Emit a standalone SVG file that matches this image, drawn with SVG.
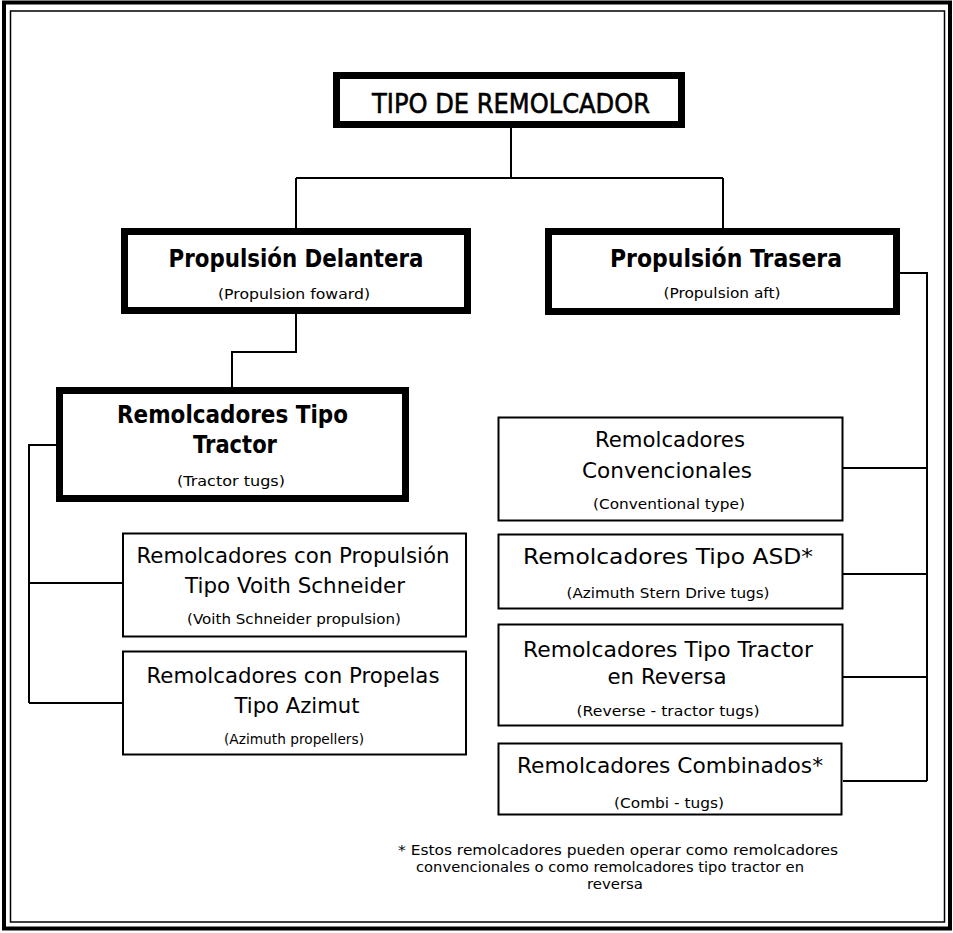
<svg xmlns="http://www.w3.org/2000/svg" width="953" height="933" viewBox="0 0 953 933">
<style>
.frame{fill:none;stroke:#000}
.thick{fill:#fff;stroke:#000;stroke-width:7}
.thin{fill:#fff;stroke:#000;stroke-width:2}
.conn{fill:none;stroke:#000;stroke-width:2}
text{font-family:"DejaVu Sans","Liberation Sans",sans-serif;fill:#000;text-anchor:middle}
.title{font-size:27px;stroke:#000;stroke-width:0.6}
.bold{font-size:24px;font-weight:bold}
.reg{font-size:22px}
.sub{font-size:14px}
.note{font-size:14px}
</style>
<rect width="953" height="933" fill="#fff"/>
<rect class="frame" x="4" y="2.5" width="946" height="926" stroke-width="4"/>
<rect class="frame" x="10.5" y="11" width="934" height="911" stroke-width="1.5"/>
<g id="connectors">
<path class="conn" d="M511 128 V178 M296 178 H723 M296 178 V228 M723 178 V228"/>
<path class="conn" d="M296 314 V352 H232 V387"/>
<path class="conn" d="M56 445 H29 V703 M29 583 H122 M29 703 H122"/>
<path class="conn" d="M900 273 H927 V781 M843 468 H927 M843 574 H927 M843 677 H927 M843 781 H927"/>
</g>
<g id="tipo">
<rect class="thick" x="336.5" y="75.5" width="345" height="49"/>
<text class="title" x="511" y="113" textLength="278" lengthAdjust="spacingAndGlyphs">TIPO DE REMOLCADOR</text>
</g>
<g id="prop-delantera">
<rect class="thick" x="124.5" y="231.5" width="343" height="79"/>
<text class="bold" x="296" y="267" textLength="255" lengthAdjust="spacingAndGlyphs">Propulsión Delantera</text>
<text class="sub" x="294" y="299" textLength="152" lengthAdjust="spacingAndGlyphs">(Propulsion foward)</text>
</g>
<g id="prop-trasera">
<rect class="thick" x="548.5" y="231.5" width="348" height="80"/>
<text class="bold" x="726" y="267" textLength="232" lengthAdjust="spacingAndGlyphs">Propulsión Trasera</text>
<text class="sub" x="722" y="298" textLength="117" lengthAdjust="spacingAndGlyphs">(Propulsion aft)</text>
</g>
<g id="tractor">
<rect class="thick" x="59.5" y="390.5" width="346" height="108"/>
<text class="bold" x="232.5" y="423" textLength="231" lengthAdjust="spacingAndGlyphs">Remolcadores Tipo</text>
<text class="bold" x="235" y="453" textLength="84" lengthAdjust="spacingAndGlyphs">Tractor</text>
<text class="sub" x="231" y="486" textLength="108" lengthAdjust="spacingAndGlyphs">(Tractor tugs)</text>
</g>
<g id="voith">
<rect class="thin" x="123" y="533.5" width="343" height="103"/>
<text class="reg" x="293" y="563" textLength="313" lengthAdjust="spacingAndGlyphs">Remolcadores con Propulsión</text>
<text class="reg" x="295" y="593" textLength="220" lengthAdjust="spacingAndGlyphs">Tipo Voith Schneider</text>
<text class="sub" x="294" y="624" textLength="214" lengthAdjust="spacingAndGlyphs">(Voith Schneider propulsion)</text>
</g>
<g id="azimut">
<rect class="thin" x="123" y="651.5" width="343" height="103"/>
<text class="reg" x="293" y="683" textLength="293" lengthAdjust="spacingAndGlyphs">Remolcadores con Propelas</text>
<text class="reg" x="297" y="713" textLength="125" lengthAdjust="spacingAndGlyphs">Tipo Azimut</text>
<text class="sub" x="294" y="744" textLength="140" lengthAdjust="spacingAndGlyphs">(Azimuth propellers)</text>
</g>
<g id="convencionales">
<rect class="thin" x="498.5" y="417.5" width="344" height="103"/>
<text class="reg" x="670" y="447" textLength="150" lengthAdjust="spacingAndGlyphs">Remolcadores</text>
<text class="reg" x="667" y="478" textLength="170" lengthAdjust="spacingAndGlyphs">Convencionales</text>
<text class="sub" x="669" y="509" textLength="152" lengthAdjust="spacingAndGlyphs">(Conventional type)</text>
</g>
<g id="asd">
<rect class="thin" x="498.5" y="534.5" width="344" height="74"/>
<text class="reg" x="668" y="564" textLength="290" lengthAdjust="spacingAndGlyphs">Remolcadores Tipo ASD*</text>
<text class="sub" x="668" y="598" textLength="203" lengthAdjust="spacingAndGlyphs">(Azimuth Stern Drive tugs)</text>
</g>
<g id="reversa">
<rect class="thin" x="498.5" y="624.5" width="344" height="101"/>
<text class="reg" x="668" y="657" textLength="290" lengthAdjust="spacingAndGlyphs">Remolcadores Tipo Tractor</text>
<text class="reg" x="667" y="684" textLength="119" lengthAdjust="spacingAndGlyphs">en Reversa</text>
<text class="sub" x="668" y="716" textLength="183" lengthAdjust="spacingAndGlyphs">(Reverse - tractor tugs)</text>
</g>
<g id="combinados">
<rect class="thin" x="498.5" y="743.5" width="343" height="71"/>
<text class="reg" x="670" y="773" textLength="306" lengthAdjust="spacingAndGlyphs">Remolcadores Combinados*</text>
<text class="sub" x="669" y="808" textLength="110" lengthAdjust="spacingAndGlyphs">(Combi - tugs)</text>
</g>
<g id="footnote">
<text class="note" x="618" y="855" textLength="440" lengthAdjust="spacingAndGlyphs">* Estos remolcadores pueden operar como remolcadores</text>
<text class="note" x="610" y="872" textLength="388" lengthAdjust="spacingAndGlyphs">convencionales o como remolcadores tipo tractor en</text>
<text class="note" x="615" y="889" textLength="56" lengthAdjust="spacingAndGlyphs">reversa</text>
</g>
</svg>
